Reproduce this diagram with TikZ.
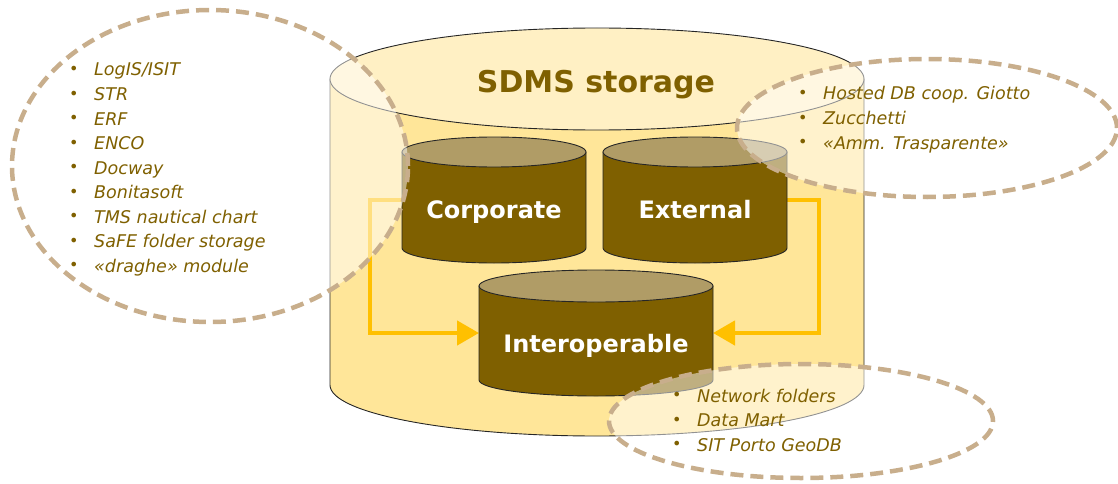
\documentclass[tikz,border=0pt]{standalone}
\usepackage{fontspec}
\setmainfont{DejaVu Sans}
\usetikzlibrary{arrows.meta}
\definecolor{olivebrown}{HTML}{7F6000}
\definecolor{drumtop}{HTML}{B09C66}
\definecolor{sdmsbody}{HTML}{FFE699}
\definecolor{sdmstop}{HTML}{FFF0C4}
\definecolor{flowgold}{HTML}{FFC000}
\definecolor{ringtan}{HTML}{C8AE8C}
\tikzset{
  drum/.style={inner sep=0pt,outer sep=0pt},
  drumline/.style={draw=black!85,line width=0.9pt},
  dbname/.style={anchor=base,inner sep=0pt,text=white,font=\fontsize{24}{24}\selectfont\bfseries},
  flow/.style={draw=flowgold,line width=4.5pt,-{Triangle[length=22pt,width=24pt]}},
  ring/.style={draw=ringtan,line width=4.5pt,dash pattern=on 13pt off 7pt,fill=white,fill opacity=0.5},
  item/.style={anchor=base west,inner sep=0pt,text=olivebrown,font=\fontsize{17.5}{20}\selectfont\itshape}
}
% bullet in front of each item
\newcommand{\itm}[1]{\makebox[25pt][l]{\raisebox{1.5pt}{\fontsize{16}{16}\selectfont\upshape\textbullet}}#1}
% cylinder drawn on the body node: node, x radius, y radius, body fill, top fill
\newcommand{\drawdrum}[5]{%
  \draw[drumline,#4] (#1.north west) -- (#1.south west)
    arc[start angle=180,end angle=360,x radius=#2,y radius=#3] -- (#1.north east) -- cycle;
  \draw[drumline,#5] (#1.north) ellipse[x radius=#2,y radius=#3];}

\begin{document}
\begin{tikzpicture}[x=1pt,y=1pt]
\useasboundingbox (0,0) rectangle (1118,-484);

%big storage cylinder
\node[drum,minimum width=534pt,minimum height=306pt] (sdms) at (597,-232) {};
\drawdrum{sdms}{267}{51}{fill=sdmsbody}{fill=sdmstop}
\node[anchor=base,inner sep=0pt,text=olivebrown,font=\fontsize{30}{30}\selectfont\bfseries] (title) at (596,-93) {SDMS storage};

%inner databases
\node[drum,minimum width=184pt,minimum height=96pt] (corp) at (494,-200) {};
\node[drum,minimum width=184pt,minimum height=96pt] (ext) at (695,-200) {};
\node[drum,minimum width=234pt,minimum height=94pt] (inter) at (596,-333) {};

%flows into interoperable
\draw[flow] (corp.west) -- ++(-32,0) |- (inter.west);
\draw[flow] (ext.east) -- ++(32,0) |- (inter.east);

\drawdrum{corp}{92}{15}{fill=olivebrown}{fill=drumtop}
\drawdrum{ext}{92}{15}{fill=olivebrown}{fill=drumtop}
\drawdrum{inter}{117}{16}{fill=olivebrown}{fill=drumtop}
\node[dbname] (corptxt) at (494,-218) {Corporate};
\node[dbname] (exttxt) at (695,-218) {External};
\node[dbname] (intertxt) at (596,-352) {Interoperable};

%dashed clouds of sources
\draw[ring] (210,-166) ellipse[x radius=198,y radius=156];
\draw[ring] (927,-128) ellipse[x radius=190,y radius=69];
\draw[ring] (801,-421) ellipse[x radius=192,y radius=57];

%lists
\foreach \t [count=\i] in {LogIS/ISIT,STR,ERF,ENCO,Docway,Bonitasoft,TMS nautical chart,SaFE folder storage,«draghe» module}
  \node[item] (corp\i) at (69,-51.5-24.5*\i) {\itm{\t}};
\foreach \t [count=\i] in {Hosted DB coop. Giotto,Zucchetti,«Amm. Trasparente»}
  \node[item] (ext\i) at (798,-75-24.8*\i) {\itm{\t}};
\foreach \t [count=\i] in {Network folders,Data Mart,SIT Porto GeoDB}
  \node[item] (inter\i) at (672,-377.5-24.5*\i) {\itm{\t}};

\end{tikzpicture}
\end{document}
